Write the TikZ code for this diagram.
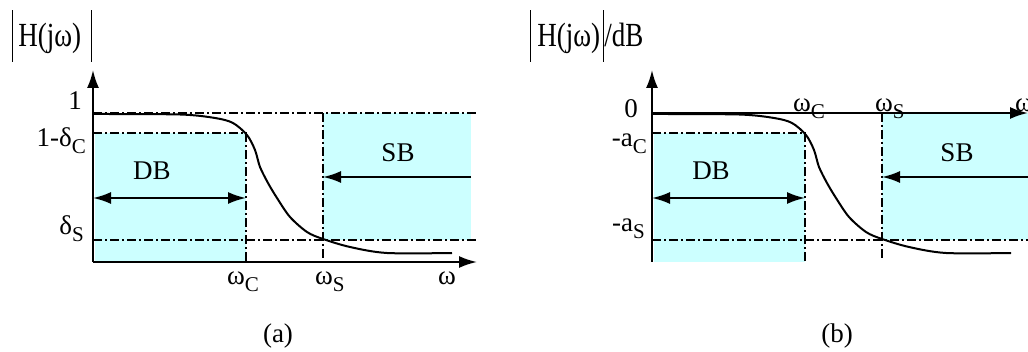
\documentclass[tikz,border=0pt]{standalone}
\usepackage{fontspec}
\setmainfont{Liberation Serif}
\usetikzlibrary{arrows.meta}
\definecolor{bandcyan}{HTML}{CCFFFF}
\newcommand{\lowsub}[1]{\raisebox{-7pt}{\fontsize{21}{21}\selectfont #1}}
\newcommand{\magbar}{\rule[-15pt]{1.2pt}{52pt}}
\newcommand{\tallt}[1]{\scalebox{1}[1.25]{#1}}

\begin{document}
\begin{tikzpicture}[
x=1pt, y=-1pt,
font=\fontsize{27}{30}\selectfont,
band/.style={fill=bandcyan},
guide/.style={line width=1.6pt, dash pattern=on 9pt off 3pt on 2pt off 3pt},
axis/.style={line width=2pt, -{Latex[length=18pt,width=12pt]}},
arrow/.style={line width=2pt, -{Latex[length=18pt,width=12pt]}},
span/.style={line width=2pt, {Latex[length=18pt,width=12pt]}-{Latex[length=18pt,width=12pt]}},
resp/.style={line width=2pt},
lbl/.style={inner sep=0pt}
]
\useasboundingbox (0,0) rectangle (1028,352);
% parts shared by both panels
\foreach \dx/\p in {0/a,559/b}{
\begin{scope}[xshift=\dx]
\coordinate (\p-o) at (93,262);
\coordinate (\p-top) at (93,70);
\coordinate (\p-dbl) at (93,198);
\coordinate (\p-dbr) at (246,198);
\coordinate (\p-sbl) at (323,177);
\coordinate (\p-sbr) at (471,177);
\fill[band] (95,133) rectangle (246,262);
\fill[band] (323,113) rectangle (471,240);
\draw[guide] (93,133) -| (246,262);
\draw[guide] (93,240) -- (476,240);
\draw[guide] (323,113) -- (323,260);
\draw[resp] plot[smooth, tension=0.5] coordinates {(93,114) (180,114.5) (215,118) (233,123) (247,135) (255,150) (260,167) (268,183) (277,198) (290,217) (307,232) (323,239) (350,247) (387,253) (452,253)};
\draw[span] (\p-dbl) -- (\p-dbr);
\draw[arrow] (\p-sbr) -- (\p-sbl);
\node[lbl, anchor=base] (\p-db) at (152,180) {DB};
\node[lbl, anchor=base] (\p-sb) at (398,162) {SB};
\draw[axis] (\p-o) -- (\p-top);
\end{scope}
}
% panel (a)
\coordinate (a-xend) at (477,262);
\draw[guide] (93,113) -- (476,113);
\draw[axis] (a-o) -- (a-xend);
\node[lbl, anchor=base west] (ta) at (12,47) {\magbar\hspace{5pt}\tallt{H(jω)}\hspace{10pt}\magbar};
\node[lbl, anchor=base east] (one) at (82,110) {1};
\node[lbl, anchor=base east] (pass) at (86,147) {1-δ\lowsub{C}};
\node[lbl, anchor=base east] (stop) at (84,235) {δ\lowsub{S}};
\node[lbl, anchor=base west] (wca) at (227,285) {ω\lowsub{C}};
\node[lbl, anchor=base west] (wsa) at (315,285) {ω\lowsub{S}};
\node[lbl, anchor=base west] (wa) at (438,285) {ω};
\node[lbl, anchor=base] (capa) at (278,343) {(a)};
% panel (b)
\coordinate (b-y0) at (652,113);
\coordinate (b-xend) at (1028,113);
\draw[axis] (b-y0) -- (b-xend);
\node[lbl, anchor=base west] (tb) at (530,47) {\magbar\hspace{6pt}\tallt{H(jω)}\hspace{3pt}\magbar\tallt{/dB}};
\node[lbl, anchor=base east] (zero) at (638,118) {0};
\node[lbl, anchor=base east] (ac) at (647,147) {-a\lowsub{C}};
\node[lbl, anchor=base east] (as) at (645,232) {-a\lowsub{S}};
\node[lbl, anchor=base west] (wcb) at (793,112) {ω\lowsub{C}};
\node[lbl, anchor=base west] (wsb) at (875,112) {ω\lowsub{S}};
\node[lbl, anchor=base west] (wb) at (1015,112) {ω};
\node[lbl, anchor=base] (capb) at (837,343) {(b)};
\end{tikzpicture}
\end{document}
